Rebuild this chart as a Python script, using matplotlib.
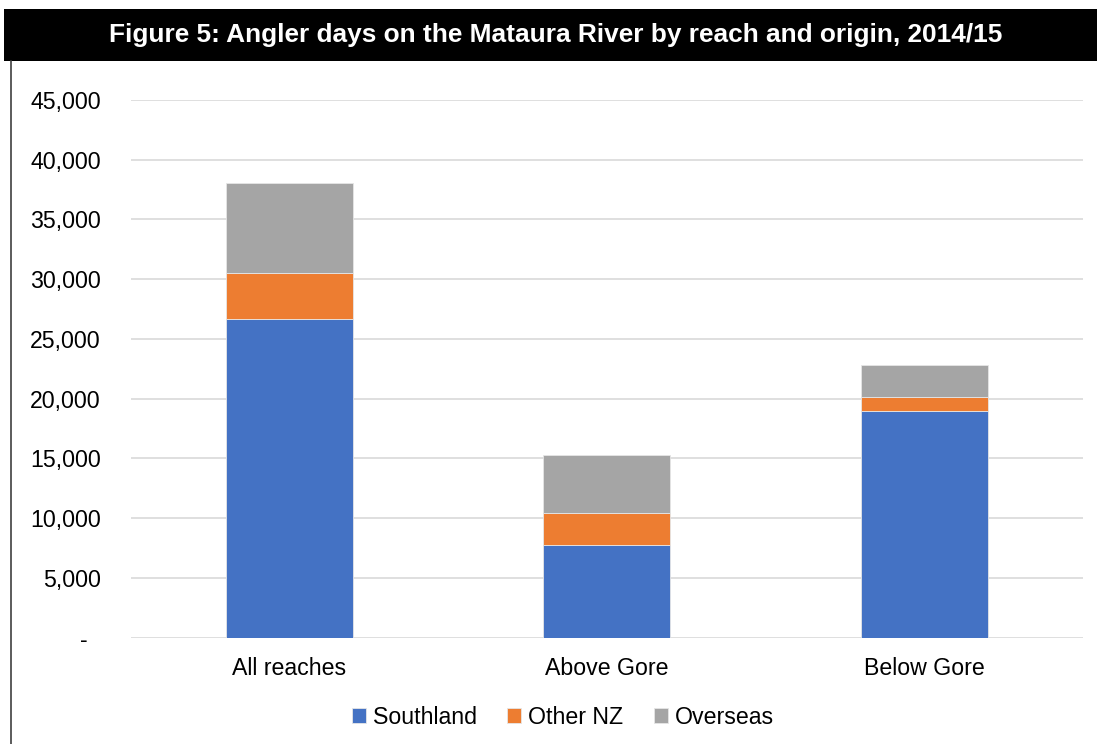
import matplotlib
matplotlib.use("Agg")
import matplotlib.pyplot as plt
from matplotlib.patches import Rectangle
from matplotlib.lines import Line2D
from matplotlib.ticker import FuncFormatter, MultipleLocator
import numpy as np

plt.rcParams['font.family'] = ['Liberation Sans', 'DejaVu Sans']

reaches = ["All reaches", "Above Gore", "Below Gore"]
series_names = ["Southland", "Other NZ", "Overseas"]
southland = [26670, 7780, 19000]
other_nz = [3870, 2680, 1170]
overseas = [7540, 4850, 2680]
colors = ["#4472C4", "#ED7D31", "#A5A5A5"]

title = "Figure 5: Angler days on the Mataura River by reach and origin, 2014/15"

W, H = 1097, 744
fig = plt.figure(figsize=(W / 100, H / 100), dpi=100)

# black title banner
fig.patches.append(Rectangle((4 / W, 1 - 61 / H), 1 - 4 / W, 52 / H,
                             transform=fig.transFigure, facecolor="black",
                             edgecolor="none", zorder=0))
fig.text(556 / W, 1 - 35 / H, title, color="white", fontsize=18.9,
         fontweight="bold", ha="center", va="center")
# left frame line
fig.add_artist(Line2D([11 / W, 11 / W], [0, 1 - 61 / H], transform=fig.transFigure,
                      color="#404040", linewidth=1.2))

ax = fig.add_axes([130.7 / W, 1 - 637.7 / H, (1083 - 130.7) / W, (637.7 - 100) / H])

x = np.arange(len(reaches))
bottom = np.zeros(len(reaches))
for name, vals, c in zip(series_names, [southland, other_nz, overseas], colors):
    ax.bar(x, vals, width=0.4, bottom=bottom, color=c, label=name,
           edgecolor="#e6e6e6", linewidth=0.6, zorder=3)
    bottom += np.array(vals)

ax.set_xlim(-0.5, len(reaches) - 0.5)
ax.set_ylim(0, 45000)
ax.yaxis.set_major_locator(MultipleLocator(5000))
ax.yaxis.set_major_formatter(FuncFormatter(lambda v, p: "-  " if v == 0 else f"{int(v):,}"))
ax.grid(axis="y", color="#d9d9d9", linewidth=1.2, zorder=0)
ax.set_axisbelow(True)
for s in ax.spines.values():
    s.set_visible(False)
ax.tick_params(axis="both", length=0, labelsize=16.7, colors="black")
ax.tick_params(axis="y", pad=21.6)
ax.tick_params(axis="x", pad=14)
ax.set_xticks(x)
ax.set_xticklabels(reaches)

leg = fig.legend(loc="center", bbox_to_anchor=(563 / W, 1 - 717 / H), ncol=3,
                 frameon=False, fontsize=16.7, handlelength=0.6, handleheight=0.6,
                 handletextpad=0.3, columnspacing=1.3)

fig.savefig("out.png", dpi=100)
